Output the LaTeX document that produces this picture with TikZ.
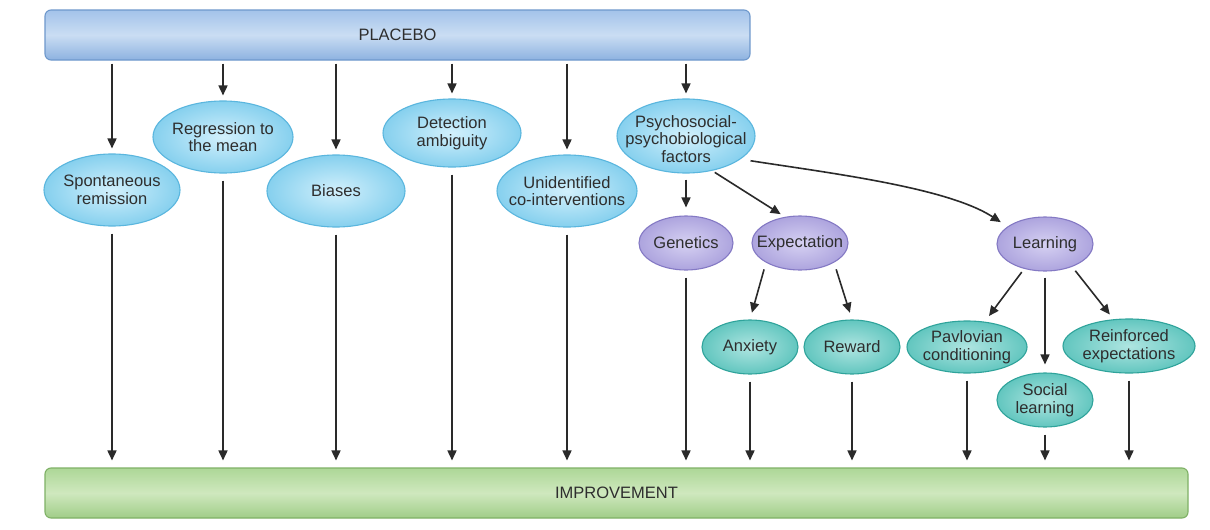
\documentclass[tikz,border=0pt]{standalone}
\usepackage{fontspec}
\setmainfont{Liberation Sans}
\usetikzlibrary{shapes.geometric,arrows.meta}
\definecolor{txt}{HTML}{2E2E2E}
\definecolor{arrc}{HTML}{2A2A2A}
\definecolor{bEdge}{HTML}{5AB6DE}
\definecolor{bIn}{HTML}{D2F0FC}
\definecolor{bOut}{HTML}{86D0EE}
\definecolor{pEdge}{HTML}{8479C4}
\definecolor{pIn}{HTML}{D6D1F2}
\definecolor{pOut}{HTML}{ADA4DE}
\definecolor{tEdge}{HTML}{2FA39B}
\definecolor{tIn}{HTML}{AFE5E1}
\definecolor{tOut}{HTML}{62C6BF}
\definecolor{plEdge}{HTML}{6E98CC}
\definecolor{plTop}{HTML}{A3C3EA}
\definecolor{plMid}{HTML}{CADDF3}
\definecolor{plBot}{HTML}{8DB2E0}
\definecolor{imEdge}{HTML}{7FB166}
\definecolor{imTop}{HTML}{ADD797}
\definecolor{imMid}{HTML}{CFE8BE}
\definecolor{imBot}{HTML}{A0CD88}
\begin{document}
\begin{tikzpicture}[x=1pt,y=-1pt,
  ell/.style={ellipse,line width=1.1pt,inner sep=0pt},
  blueell/.style={ell,draw=bEdge,inner color=bIn,outer color=bOut},
  purpell/.style={ell,draw=pEdge,inner color=pIn,outer color=pOut},
  tealell/.style={ell,draw=tEdge,inner color=tIn,outer color=tOut},
  lbl/.style={text=txt,font=\fontsize{16.5}{17.5}\selectfont,align=center,inner sep=0pt},
  bandbox/.style={rectangle,rounded corners=6pt,line width=1.1pt,text=txt,font=\fontsize{16.5}{17.5}\selectfont},
  arr/.style={draw=arrc,line width=1.6pt,-{Triangle[length=10pt,width=9pt]}},
  fromtop/.style={arr,shorten <=3pt,shorten >=5pt},
  tobottom/.style={arr,shorten <=7pt,shorten >=7pt},
]
\useasboundingbox (0,0) rectangle (1210,530);
\fill[white] (0,0) rectangle (1210,530);

% bands
\node[bandbox,draw=plEdge,top color=plTop,bottom color=plBot,middle color=plMid,
      minimum width=705pt,minimum height=50pt] (placebo) at (397.5,35) {PLACEBO};
\node[bandbox,draw=imEdge,top color=imTop,bottom color=imBot,middle color=imMid,
      minimum width=1143pt,minimum height=50pt] (improve) at (616.5,493) {IMPROVEMENT};

% blue ellipses
\node[blueell,minimum width=136pt,minimum height=72pt] (spont) at (112,190) {};
\node[lbl] (spont-t) at (spont) {Spontaneous\\remission};
\node[blueell,minimum width=140pt,minimum height=72pt] (regr) at (223,137) {};
\node[lbl] (regr-t) at (regr) {Regression to\\the mean};
\node[blueell,minimum width=138pt,minimum height=72pt] (bias) at (336,191) {};
\node[lbl] (bias-t) at (bias) {Biases};
\node[blueell,minimum width=138pt,minimum height=68pt] (detect) at (452,133) {};
\node[lbl] (detect-t) at (detect) {Detection\\ambiguity};
\node[blueell,minimum width=140pt,minimum height=72pt] (unid) at (567,191) {};
\node[lbl] (unid-t) at (unid) {Unidentified\\co-interventions};
\node[blueell,minimum width=138pt,minimum height=74pt] (psycho) at (686,136) {};
\node[lbl] (psycho-t) at ([yshift=-3pt]psycho) {Psychosocial-\\psychobiological\\factors};

% purple ellipses
\node[purpell,minimum width=94pt,minimum height=54pt] (gen) at (686,243) {};
\node[lbl] (gen-t) at (gen) {Genetics};
\node[purpell,minimum width=96pt,minimum height=54pt] (expect) at (800,243) {};
\node[lbl] (expect-t) at (expect) {Expectation};
\node[purpell,minimum width=96pt,minimum height=54pt] (learn) at (1045,244) {};
\node[lbl] (learn-t) at (learn) {Learning};

% teal ellipses
\node[tealell,minimum width=96pt,minimum height=54pt] (anx) at (750,347) {};
\node[lbl] (anx-t) at (anx) {Anxiety};
\node[tealell,minimum width=96pt,minimum height=54pt] (rew) at (852,347) {};
\node[lbl] (rew-t) at (rew) {Reward};
\node[tealell,minimum width=120pt,minimum height=52pt] (pav) at (967,347) {};
\node[lbl] (pav-t) at (pav) {Pavlovian\\conditioning};
\node[tealell,minimum width=132pt,minimum height=54pt] (reinf) at (1129,346) {};
\node[lbl] (reinf-t) at (reinf) {Reinforced\\expectations};
\node[tealell,minimum width=96pt,minimum height=54pt] (social) at (1045,400) {};
\node[lbl] (social-t) at (social) {Social\\learning};

% arrows from placebo
\foreach \n in {spont,regr,bias,detect,unid,psycho}
  \draw[fromtop] (\n.north |- placebo.south) -- (\n.north);

% arrows to improvement
\foreach \n in {spont,regr,bias,detect,unid,gen,anx,rew,pav,social,reinf}
  \draw[tobottom] (\n.south) -- (\n.south |- improve.north);

% psychosocial branches
\draw[arr,shorten <=6pt,shorten >=8pt] (psycho.south) -- (gen.north);
\draw[arr,shorten <=3pt,shorten >=5pt] (psycho.-53) -- (expect.120);
\draw[arr,shorten <=10pt,shorten >=8pt] (psycho.-23) .. controls +(90,14) and +(-60,-39) .. (learn.155);

% expectation branches
\draw[arr,shorten <=7pt,shorten >=7pt] (expect.-150) -- (anx.north);
\draw[arr,shorten <=7pt,shorten >=7pt] (expect.-30) -- (rew.north);

% learning branches
\draw[arr,shorten <=4pt,shorten >=7pt] (learn.-130) -- (pav.55);
\draw[arr,shorten <=6pt,shorten >=8pt] (learn.south) -- (social.north);
\draw[arr,shorten <=5pt,shorten >=6pt] (learn.-40) -- (reinf.120);
\end{tikzpicture}
\end{document}
